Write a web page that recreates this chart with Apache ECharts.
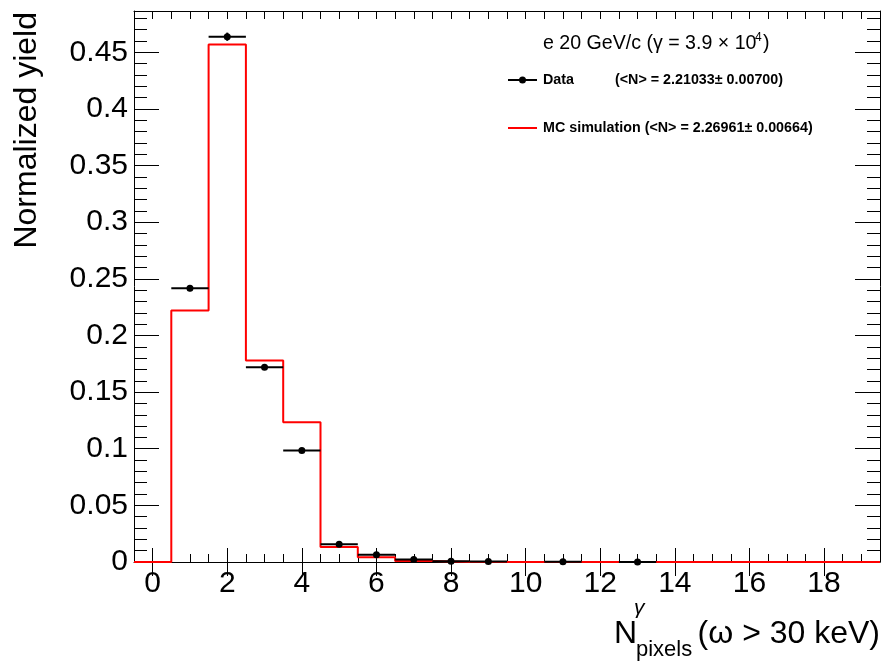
<!DOCTYPE html>
<html><head><meta charset="utf-8">
<script src="https://cdn.jsdelivr.net/npm/echarts@6/dist/echarts.min.js"></script>
<style>html,body{margin:0;padding:0;background:#fff}#c{width:884px;height:663px}</style>
</head><body><div id="c"></div>
<script>
// ---- data ----
const dataX = [1, 2, 3, 4, 5, 6, 7, 8, 9, 11, 13];
const dataY = [0.2416, 0.4638, 0.1720, 0.0985, 0.0156, 0.0063, 0.0022, 0.0006, 0.0004, 0.0002, 0.0001];
const dataYErr = [0.0025, 0.0036, 0.0022, 0.0017, 0.0010, 0.0008, 0.0005, 0.0003, 0.0002, 0.0002, 0.0001];
const dataXErr = 0.5;
const mcBinCenters = [0, 1, 2, 3, 4, 5, 6, 7, 8, 9, 10, 11, 12, 13, 14, 15, 16, 17, 18, 19];
const mcValues = [0, 0.222, 0.457, 0.178, 0.1235, 0.0132, 0.0043, 0.0009, 0, 0, 0, 0, 0, 0, 0, 0, 0, 0, 0, 0];
const xTickLabels = ['0', '2', '4', '6', '8', '10', '12', '14', '16', '18'];
const yTickLabels = ['0', '0.05', '0.1', '0.15', '0.2', '0.25', '0.3', '0.35', '0.4', '0.45'];
const xMin = -0.5, xMax = 19.5, yMin = 0, yMax = 0.4865;

const FONT = 'Liberation Sans';
const chart = echarts.init(document.getElementById('c'), null, {renderer: 'canvas'});

// positions for the major-tick category axis
const xCats = [];
for (let v = xMin; v <= xMax + 1e-9; v += 0.5) xCats.push(String(v));

const histPts = mcBinCenters.map((c, i) => [c - 0.5, mcValues[i]]);
histPts.push([mcBinCenters[mcBinCenters.length - 1] + 0.5, mcValues[mcValues.length - 1]]);

const noLine = {show: false};

function xMinorAxis(pos, labels, line) {
  return {
    type: 'value', position: pos, min: xMin, max: xMax, interval: 0.5,
    axisLine: line ? {show: true, onZero: false, lineStyle: {color: '#000', width: 1}} : noLine,
    axisTick: {show: true, inside: true, length: 8, lineStyle: {color: '#000', width: 1}},
    axisLabel: labels ? {
      show: true, color: '#000', fontFamily: FONT, fontSize: 30, margin: 7,
      formatter: v => xTickLabels.includes(String(v)) ? String(v) : ''
    } : {show: false},
    splitLine: {show: false}
  };
}
function xMajorAxis(pos) {
  return {
    type: 'category', position: pos, data: xCats, boundaryGap: false,
    axisLine: noLine,
    axisTick: {show: true, inside: true, length: 14, lineStyle: {color: '#000', width: 1},
      interval: (idx, val) => xTickLabels.includes(String(val))},
    axisLabel: {show: false}, splitLine: {show: false}
  };
}
function yAxisDef(pos, labels) {
  return {
    type: 'value', position: pos, min: yMin, max: yMax, interval: 0.05,
    axisLine: {show: true, onZero: false, lineStyle: {color: '#000', width: 1}},
    axisTick: {show: true, inside: true, length: 25, lineStyle: {color: '#000', width: 1}},
    minorTick: {show: true, splitNumber: 5, length: 13, lineStyle: {color: '#000', width: 1}},
    axisLabel: labels ? {
      show: true, color: '#000', fontFamily: FONT, fontSize: 30, margin: 6,
      formatter: v => { const s = String(Math.round(v * 100) / 100); return yTickLabels.includes(s) && Math.abs(v - Number(s)) < 1e-6 ? s : ''; }
    } : {show: false},
    splitLine: {show: false}, minorSplitLine: {show: false}
  };
}

const option = {
  animation: false,
  backgroundColor: '#fff',
  grid: {left: 134, right: 4, top: 11, bottom: 101, containLabel: false},
  xAxis: [
    xMinorAxis('bottom', true, true),
    xMajorAxis('bottom'),
    xMinorAxis('top', false, true),
    xMajorAxis('top')
  ],
  yAxis: [
    yAxisDef('left', true),
    yAxisDef('right', false)
  ],
  series: [
    {
      name: 'MC simulation', type: 'line', step: 'end', xAxisIndex: 0, yAxisIndex: 0,
      data: histPts, symbol: 'none', lineStyle: {color: '#ff0000', width: 2}, z: 3
    },
    {
      name: 'Data', type: 'custom', xAxisIndex: 0, yAxisIndex: 0, z: 5,
      data: dataX.map((x, i) => [x, dataY[i], dataYErr[i]]),
      renderItem: (params, api) => {
        const x = api.value(0), y = api.value(1), e = api.value(2);
        const pL = api.coord([x - dataXErr, y]);
        const pR = api.coord([x + dataXErr, y]);
        const pT = api.coord([x, y + e]);
        const pB = api.coord([x, Math.max(0, y - e)]);
        const c = api.coord([x, y]);
        return {type: 'group', children: [
          {type: 'line', shape: {x1: pL[0], y1: pL[1], x2: pR[0], y2: pR[1]}, style: {stroke: '#000', lineWidth: 2}},
          {type: 'line', shape: {x1: pT[0], y1: pT[1], x2: pB[0], y2: pB[1]}, style: {stroke: '#000', lineWidth: 2}},
          {type: 'circle', shape: {cx: c[0], cy: c[1], r: 3.5}, style: {fill: '#000'}}
        ]};
      }
    }
  ],
  graphic: [
    // y axis title
    {type: 'text', x: 27, y: 12, rotation: Math.PI / 2,
      style: {text: 'Normalized yield', fontFamily: FONT, fontSize: 32, fill: '#000', align: 'right', verticalAlign: 'middle'}},
    // x axis title
    {type: 'text', x: 614, y: 634, style: {text: 'N', fontFamily: FONT, fontSize: 32, fill: '#000', align: 'left', verticalAlign: 'middle'}},
    {type: 'text', x: 634, y: 608, style: {text: 'γ', fontFamily: FONT, fontSize: 21, fontStyle: 'italic', fill: '#000', align: 'left', verticalAlign: 'middle'}},
    {type: 'text', x: 636, y: 650, style: {text: 'pixels', fontFamily: FONT, fontSize: 22, fill: '#000', align: 'left', verticalAlign: 'middle'}},
    {type: 'text', x: 880, y: 634, style: {text: '(ω > 30 keV)', fontFamily: FONT, fontSize: 32, fill: '#000', align: 'right', verticalAlign: 'middle'}},
    // annotation
    {type: 'text', x: 543, y: 44, style: {text: 'e 20 GeV/c (γ = 3.9 × 10', fontFamily: FONT, fontSize: 19.6, fill: '#000', align: 'left', verticalAlign: 'middle'}},
    {type: 'text', x: 755, y: 38, style: {text: '4', fontFamily: FONT, fontSize: 12, fill: '#000', align: 'left', verticalAlign: 'middle'}},
    {type: 'text', x: 763, y: 44, style: {text: ')', fontFamily: FONT, fontSize: 19.6, fill: '#000', align: 'left', verticalAlign: 'middle'}},
    // legend
    {type: 'line', shape: {x1: 508, y1: 80, x2: 537, y2: 80}, style: {stroke: '#000', lineWidth: 2}},
    {type: 'circle', shape: {cx: 522.5, cy: 80, r: 3.5}, style: {fill: '#000'}},
    {type: 'text', x: 543, y: 80, style: {text: 'Data', fontFamily: FONT, fontWeight: 'bold', fontSize: 14.3, fill: '#000', align: 'left', verticalAlign: 'middle'}},
    {type: 'text', x: 615, y: 80, style: {text: '(<N> = 2.21033± 0.00700)', fontFamily: FONT, fontWeight: 'bold', fontSize: 14.3, fill: '#000', align: 'left', verticalAlign: 'middle'}},
    {type: 'line', shape: {x1: 508, y1: 128, x2: 537, y2: 128}, style: {stroke: '#ff0000', lineWidth: 2}},
    {type: 'text', x: 543, y: 128, style: {text: 'MC simulation (<N> = 2.26961± 0.00664)', fontFamily: FONT, fontWeight: 'bold', fontSize: 14.3, fill: '#000', align: 'left', verticalAlign: 'middle'}}
  ]
};
chart.setOption(option);
</script>
</body></html>
